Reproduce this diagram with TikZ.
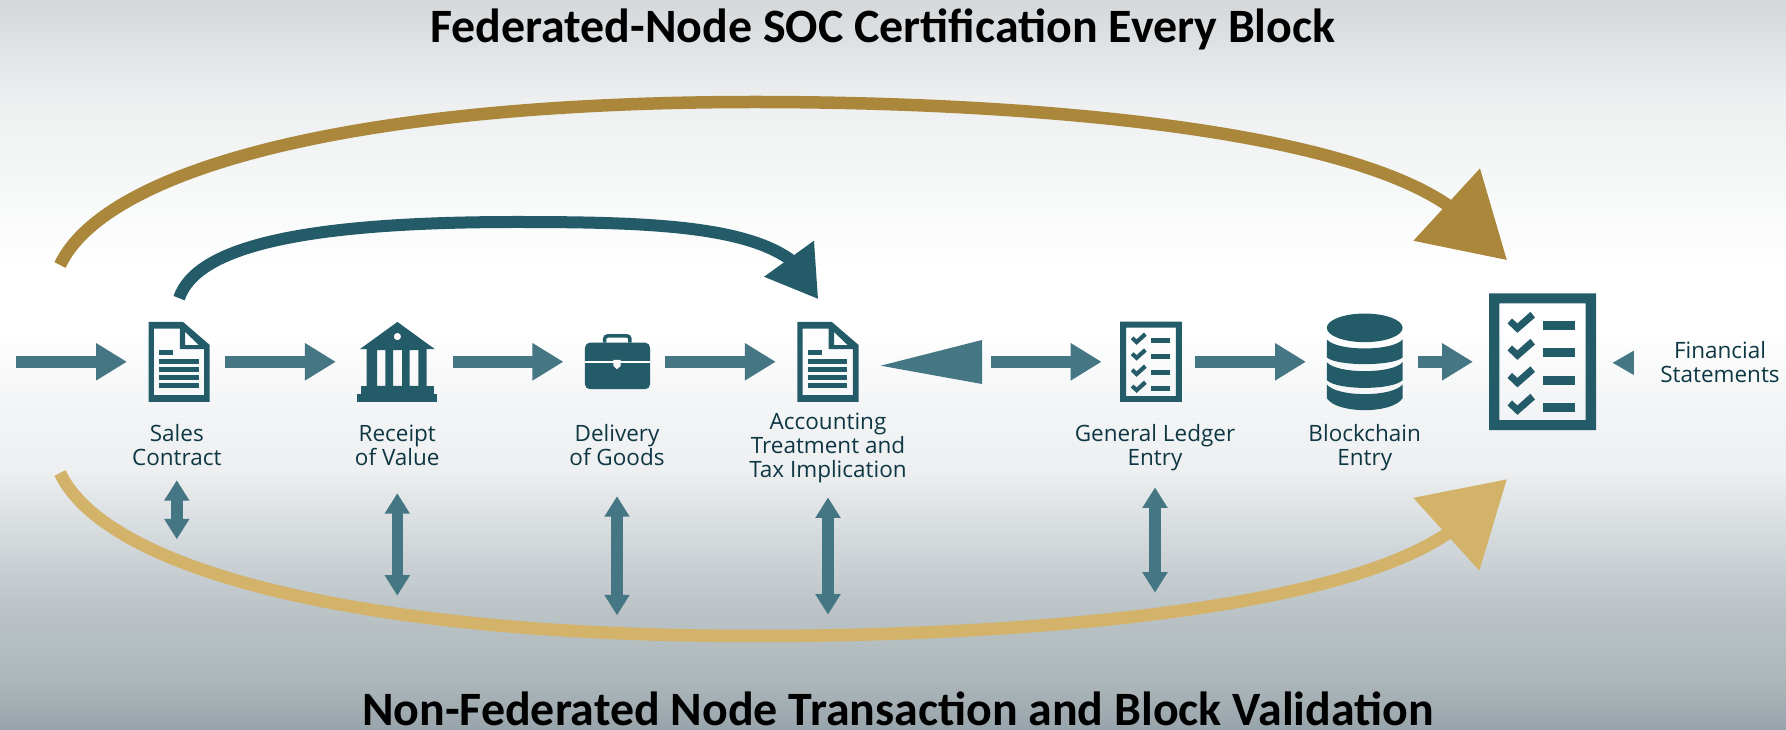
\documentclass[tikz,border=0pt]{standalone}
\usepackage{fontspec}
\setmainfont{Open Sans}
\newfontfamily\titlefont{Carlito}
\usetikzlibrary{arrows.meta}

\definecolor{tealdark}{HTML}{245B69}
\definecolor{tealflow}{HTML}{457684}
\definecolor{tealtext}{HTML}{0E3744}
\definecolor{goldtop}{HTML}{AA873A}
\definecolor{goldlow}{HTML}{D3B26A}

\tikzset{
	iconbox/.style={inner sep=0, outer sep=0},
	steptext/.style={inner sep=0, outer sep=0, align=center, anchor=base, text=tealtext, font=\fontsize{6.4}{6.85}\selectfont},
	headline/.style={inner sep=0, outer sep=0, anchor=base, font=\titlefont\bfseries\fontsize{13.63}{15}\selectfont},
	flow/.style={tealflow, line width=0.117cm, -{Triangle[length=0.31cm, width=0.353cm]}, shorten <=0.153cm, shorten >=0.215cm},
	updown/.style={tealflow, line width=0.115cm, {Triangle[length=0.205cm, width=0.24cm]}-{Triangle[length=0.205cm, width=0.24cm]}},
}

\definecolor{fadeA}{HTML}{D4D8DB}
\definecolor{fadeB}{HTML}{EDEFF0}
\definecolor{fadeC}{HTML}{F8F9F9}
\definecolor{fadeD}{HTML}{F4F5F6}
\definecolor{fadeE}{HTML}{CFD5D8}
\definecolor{fadeF}{HTML}{BBC3C6}
\definecolor{fadeG}{HTML}{ADB7BA}
\definecolor{fadeH}{HTML}{98A4AB}
\pgfdeclareverticalshading{slidefade}{100bp}{
	color(0bp)=(fadeH);
	color(25bp)=(fadeH);
	color(28.4bp)=(fadeG);
	color(33.2bp)=(fadeF);
	color(37.3bp)=(fadeE);
	color(42.8bp)=(fadeB);
	color(47.6bp)=(fadeD);
	color(52.4bp)=(white);
	color(56.5bp)=(white);
	color(61.3bp)=(fadeC);
	color(68.15bp)=(fadeB);
	color(75bp)=(fadeA);
	color(100bp)=(fadeA)}

\def\docicon(#1){
	\begin{scope}[shift={(#1)}]
		\fill[tealdark, even odd rule] (0, 0) -- (0, 0.8) -- (0.345, 0.8) -- (0.612, 0.57) -- (0.612, 0) -- cycle
			(0.054, 0.067) -- (0.054, 0.733) -- (0.314, 0.733) -- (0.314, 0.527) -- (0.555, 0.527) -- (0.555, 0.067) -- cycle
			(0.367, 0.7) -- (0.367, 0.567) -- (0.505, 0.567) -- cycle;
		\fill[tealdark] (0.103, 0.467) rectangle (0.245, 0.517);
		\fill[tealdark] (0.103, 0.383) rectangle (0.5, 0.433);
		\fill[tealdark] (0.103, 0.3) rectangle (0.5, 0.35);
		\fill[tealdark] (0.103, 0.223) rectangle (0.5, 0.27);
		\fill[tealdark] (0.103, 0.143) rectangle (0.5, 0.19);
	\end{scope}
}

\def\checkicon(#1)(#2,#3){
	\begin{scope}[shift={(#1)}, xscale=#2, yscale=#3]
		\fill[tealdark, even odd rule] (0, 0) rectangle (1.07, 1.367) (0.103, 0.1) rectangle (0.967, 1.267);
		\foreach \rowy in {0, 0.27, 0.545, 0.82}{
			\fill[tealdark] (0.185, 1.067-\rowy) -- (0.284, 0.973-\rowy) -- (0.46, 1.127-\rowy) -- (0.414, 1.183-\rowy) -- (0.284, 1.067-\rowy) -- (0.23, 1.117-\rowy) -- cycle;
			\fill[tealdark] (0.54, 1.0-\rowy) rectangle (0.86, 1.09-\rowy);
		}
	\end{scope}
}

\begin{document}
\begin{tikzpicture}
			%%%%% BACKGROUND %%%%%
			\shade[shading=slidefade] (0, 0) rectangle (17.86, 7.3);
			\useasboundingbox (0, 0) rectangle (17.86, 7.3);
			
			\node[headline] (fedtitle) at (8.83, 6.873) {Federated-Node SOC Certification Every Block};
			\node[headline] (nontitle) at (8.98, 0.04) {Non-Federated Node Transaction and Block Validation};
			
			%%%%% ICONS %%%%%
			\node[iconbox, minimum width=0.612cm, minimum height=0.803cm] (sales) at (1.791, 3.682) {};
			\docicon(sales.south west)
			
			\node[iconbox, minimum width=0.8cm, minimum height=0.803cm] (receipt) at (3.974, 3.682) {};
			\begin{scope}[shift={(receipt.south west)}]
				\fill[tealdark, even odd rule] (0.023, 0.527) -- (0.4, 0.8) -- (0.776, 0.527) -- cycle (0.4, 0.654) circle (0.037);
				\fill[tealdark, even odd rule] (0.092, 0.16) rectangle (0.693, 0.527)
					(0.196, 0.16) rectangle (0.28, 0.517)
					(0.356, 0.16) rectangle (0.448, 0.517)
					(0.521, 0.16) rectangle (0.609, 0.517);
				\fill[tealdark] (0.036, 0.084) rectangle (0.766, 0.16);
				\fill[tealdark] (0, 0) rectangle (0.8, 0.084);
			\end{scope}
			
			\node[iconbox, minimum width=0.651cm, minimum height=0.803cm] (delivery) at (6.175, 3.682) {};
			\begin{scope}[shift={(delivery.south west)}]
				\draw[tealdark, line width=0.035cm, rounded corners=0.03cm] (0.197, 0.593) -- (0.197, 0.66) -- (0.45, 0.66) -- (0.45, 0.593);
				\fill[tealdark, rounded corners=0.05cm] (0, 0.127) rectangle (0.651, 0.593);
				\fill[white] (0, 0.393) rectangle (0.651, 0.413);
				\fill[white] (0.285, 0.42) -- (0.357, 0.42) -- (0.357, 0.36) -- (0.321, 0.327) -- (0.285, 0.36) -- cycle;
			\end{scope}
			
			\node[iconbox, minimum width=0.612cm, minimum height=0.803cm] (acct) at (8.279, 3.682) {};
			\docicon(acct.south west)
			
			\node[iconbox, minimum width=0.617cm, minimum height=0.803cm] (ledger) at (11.51, 3.682) {};
			\checkicon(ledger.south west)(0.577,0.587)
			
			\node[iconbox, minimum width=0.758cm, minimum height=0.967cm] (chain) at (13.647, 3.682) {};
			\begin{scope}[shift={(chain.south west)}]
				\fill[tealdark] (0.379, 0.823) ellipse (0.379 and 0.143);
				\fill[tealdark] (0, 0.707) .. controls (0.1, 0.587) and (0.658, 0.587) .. (0.758, 0.707) -- (0.758, 0.527) .. controls (0.658, 0.438) and (0.1, 0.438) .. (0, 0.527) -- cycle;
				\fill[tealdark] (0, 0.48) .. controls (0.1, 0.36) and (0.658, 0.36) .. (0.758, 0.48) -- (0.758, 0.3) .. controls (0.658, 0.197) and (0.1, 0.197) .. (0, 0.3) -- cycle;
				\fill[tealdark] (0, 0.257) .. controls (0.1, 0.128) and (0.658, 0.128) .. (0.758, 0.257) -- (0.758, 0.12) .. controls (0.658, -0.04) and (0.1, -0.04) .. (0, 0.12) -- cycle;
			\end{scope}
			
			\node[iconbox, minimum width=1.07cm, minimum height=1.367cm] (report) at (15.425, 3.682) {};
			\checkicon(report.south west)(1,1)
			
			%%%%% LABELS %%%%%
			\node[steptext] (salestxt) at (1.768, 2.64) {Sales\\Contract};
			\node[steptext] (receipttxt) at (3.973, 2.64) {Receipt\\of Value};
			\node[steptext] (deliverytxt) at (6.17, 2.64) {Delivery\\of Goods};
			\node[steptext] (accttxt) at (8.28, 2.52) {Accounting\\Treatment and\\Tax Implication};
			\node[steptext] (ledgertxt) at (11.55, 2.64) {General Ledger\\Entry};
			\node[steptext] (chaintxt) at (13.647, 2.64) {Blockchain\\Entry};
			\node[steptext] (fintxt) at (17.2, 3.473) {Financial\\Statements};
			
			%%%%% FLOW %%%%%
			\coordinate (feed) at (0.16, 3.682);
			\draw[flow, shorten <=0] (feed) -- (sales);
			\draw[flow] (sales) -- (receipt);
			\draw[flow] (receipt) -- (delivery);
			\draw[flow] (delivery) -- (acct);
			\coordinate (gap) at (9.905, 3.682);
			\fill[tealflow] (8.807, 3.643) -- (9.82, 3.9) -- (9.82, 3.46) -- cycle;
			\draw[flow, shorten <=0, shorten >=0.185cm] (gap) -- (ledger);
			\draw[flow, shorten <=0.128cm, shorten >=0.208cm] (ledger) -- (chain);
			\draw[flow, shorten <=0.149cm, shorten >=0.16cm] (chain) -- (report);
			\fill[tealflow] (16.127, 3.672) -- (16.338, 3.793) -- (16.338, 3.55) -- cycle;
			
			%%%%% VERTICAL %%%%%
			\coordinate (salesdown) at (salestxt.south |- 0, 1.907);
			\coordinate (receiptdown) at (receipttxt.south |- 0, 1.343);
			\coordinate (deliverydown) at (deliverytxt.south |- 0, 1.147);
			\coordinate (acctdown) at (accttxt.south |- 0, 1.153);
			\coordinate (ledgerdown) at (ledgertxt.south |- 0, 1.373);
			\draw[updown, shorten <=0.14cm] (salestxt.south) -- (salesdown);
			\draw[updown, shorten <=0.27cm] (receipttxt.south) -- (receiptdown);
			\draw[updown, shorten <=0.3cm] (deliverytxt.south) -- (deliverydown);
			\draw[updown, shorten <=0.14cm] (accttxt.south) -- (acctdown);
			\draw[updown, shorten <=0.16cm] (ledgertxt.south) -- (ledgerdown);
			
			%%%%% CURVES %%%%%
			\coordinate (fedstart) at (0.6, 4.65);
			\coordinate (nonstart) at (0.6, 2.57);
			\draw[goldtop, line width=0.125cm, -{Triangle[length=0.82cm, width=0.95cm]}] (fedstart) .. controls (1.05, 5.6) and (3.5, 6.28) .. (7.55, 6.28) .. controls (10, 6.28) and (13.26, 6.06) .. (14.46, 5.26) -- ([shift={(0.18, 0.333)}]report.north west);
			\draw[goldlow, line width=0.125cm, -{Triangle[length=0.82cm, width=0.95cm]}] (nonstart) .. controls (1.05, 1.62) and (3.5, 0.94) .. (7.55, 0.94) .. controls (10, 0.94) and (13.26, 1.16) .. (14.46, 1.955) -- ([shift={(0.18, -0.49)}]report.south west);
			\draw[tealdark, line width=0.12cm, -{Triangle[length=0.5cm, width=0.58cm]}] ([yshift=0.235cm]sales.north) .. controls (1.97, 4.85) and (3.1, 5.08) .. (5.16, 5.08) .. controls (6.4, 5.08) and (7.4, 5.05) .. (7.89, 4.713) -- ([shift={(-0.096, 0.224)}]acct.north);
			
			%%%%% END %%%%%
\end{tikzpicture}
\end{document}
